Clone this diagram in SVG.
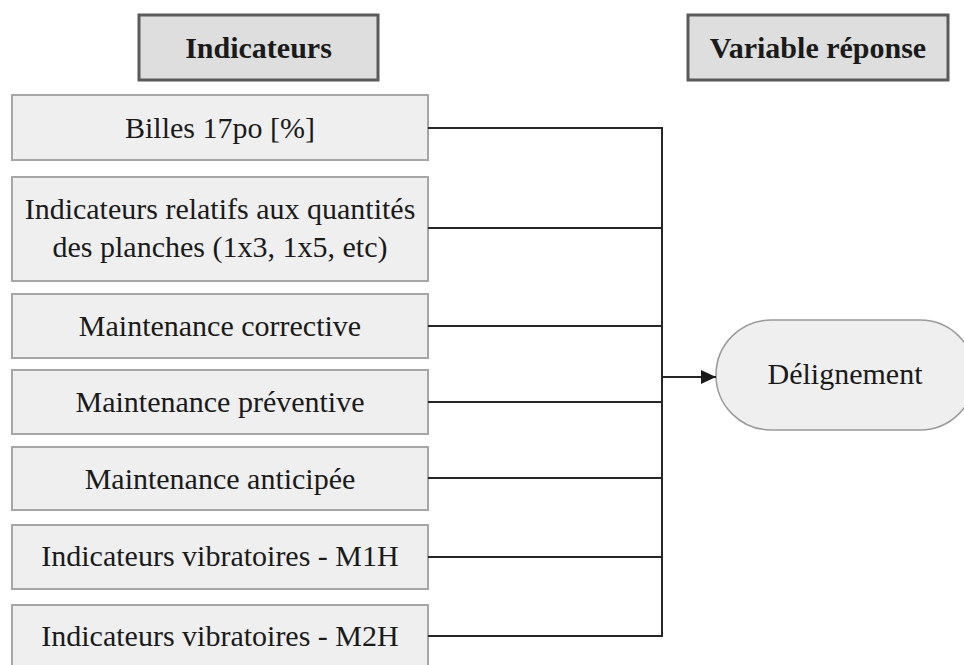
<svg xmlns="http://www.w3.org/2000/svg" width="964" height="665" viewBox="0 0 964 665">
<style>
.hdr{fill:#dedede;stroke:#5a5a5a;stroke-width:3}
.box{fill:#efefef;stroke:#a6a6a6;stroke-width:2}
.term{fill:#efefef;stroke:#9a9a9a;stroke-width:1.5}
.t{font-family:"Liberation Serif","Times New Roman",serif;font-size:30px;fill:#1a1a1a;text-anchor:middle}
.b{font-weight:bold}
.ln{stroke:#262626;stroke-width:2;fill:none}
</style>
<defs>
<marker id="arr" markerWidth="16" markerHeight="14" refX="15" refY="7" orient="auto" markerUnits="userSpaceOnUse">
<path d="M0,0 L15,7 L0,14 Z" fill="#1a1a1a"/>
</marker>
</defs>
<rect width="964" height="665" fill="#ffffff"/>
<g id="hdr-indicateurs"><rect class="hdr" x="139" y="15" width="239" height="65"/><text class="t b" x="258.5" y="58">Indicateurs</text></g>
<g id="hdr-variable"><rect class="hdr" x="688" y="15" width="260" height="65"/><text class="t b" x="818" y="58">Variable réponse</text></g>
<g id="n1"><rect class="box" x="12" y="95" width="416" height="65"/><text class="t" x="220" y="138">Billes 17po [%]</text></g>
<g id="n2"><rect class="box" x="12" y="177" width="416" height="104"/><text class="t" x="220" y="219">Indicateurs relatifs aux quantités</text><text class="t" x="220" y="257">des planches (1x3, 1x5, etc)</text></g>
<g id="n3"><rect class="box" x="12" y="294" width="416" height="64"/><text class="t" x="220" y="336">Maintenance corrective</text></g>
<g id="n4"><rect class="box" x="12" y="370" width="416" height="64"/><text class="t" x="220" y="412">Maintenance préventive</text></g>
<g id="n5"><rect class="box" x="12" y="447" width="416" height="63"/><text class="t" x="220" y="489">Maintenance anticipée</text></g>
<g id="n6"><rect class="box" x="12" y="525" width="416" height="64"/><text class="t" x="220" y="566">Indicateurs vibratoires - M1H</text></g>
<g id="n7"><rect class="box" x="12" y="605" width="416" height="66"/><text class="t" x="220" y="646">Indicateurs vibratoires - M2H</text></g>
<g id="target"><rect class="term" x="716" y="320" width="259" height="110" rx="55" ry="55"/><text class="t" x="845" y="384">Délignement</text></g>
<g id="connectors">
<path class="ln" d="M428,128 H662 V636 H428"/>
<path class="ln" d="M428,228 H662"/>
<path class="ln" d="M428,326 H662"/>
<path class="ln" d="M428,402 H662"/>
<path class="ln" d="M428,478 H662"/>
<path class="ln" d="M428,557 H662"/>
<path class="ln" d="M662,377 H716" marker-end="url(#arr)"/>
</g>
</svg>
